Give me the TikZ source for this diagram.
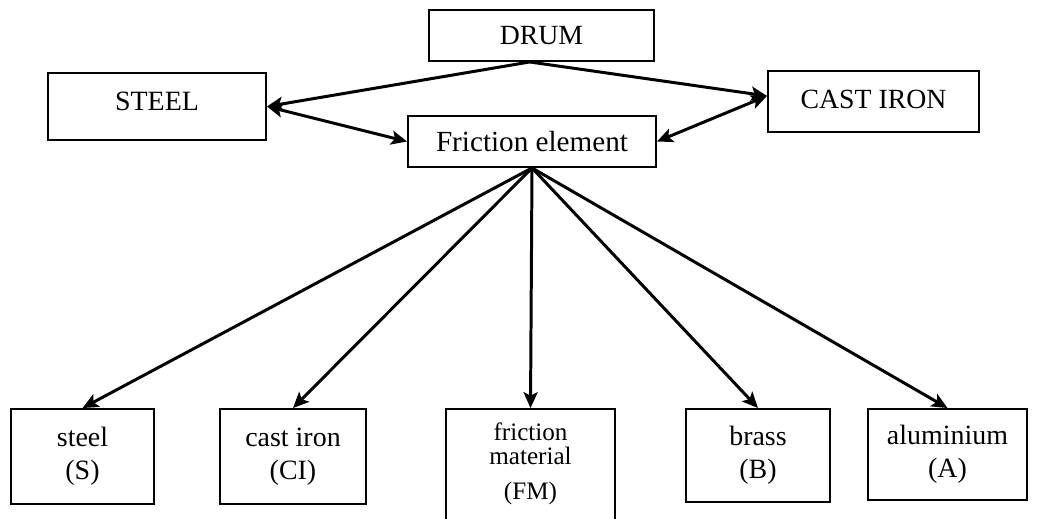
\documentclass[tikz,border=0pt]{standalone}
\usepackage{fontspec}
\setmainfont{Liberation Serif}
\usetikzlibrary{arrows.meta}

\begin{document}
\begin{tikzpicture}[x=0.02cm,y=-0.02cm]
\tikzstyle{block}=[draw,line width=1.1pt,inner sep=0pt,align=center]
\tikzstyle{link}=[line width=1.7pt,-{Stealth[length=9pt,width=8pt,inset=2pt]}]
\tikzstyle{twoway}=[line width=1.7pt,{Stealth[length=9pt,width=8pt,inset=2pt]}-{Stealth[length=9pt,width=8pt,inset=2pt]}]
\useasboundingbox (0,0) rectangle (1057,518);
\foreach \name/\point/\bw/\bh/\fs/\bs/\txt in {
	drum/{541.5,35.5}/225/51/15.8/19/DRUM,
	steel/{157,106.5}/218/67/15.9/19/{\raisebox{5.5pt}{STEEL}},
	castiron/{873.5,101.5}/211/61/15.8/19/{\raisebox{3pt}{CAST IRON}},
	fric/{532,141.5}/248/51/16.6/19/Friction element,
	s/{82.5,456.5}/143/95/15.9/18.5/{steel\\(S)},
	ci/{293,456.5}/146/95/15.9/18.5/{cast iron\\(CI)},
	fm/{530.5,470}/169/122/14.3/13.3/{friction\\material\\[6.5pt](FM)\rule[-10pt]{0pt}{1pt}},
	b/{758,455.5}/144/93/15.9/18.5/{brass\\(B)},
	a/{947.5,454.5}/159/91/15.9/18.5/{aluminium\\(A)}}
	\node[block,minimum width=\bw*0.02cm,minimum height=\bh*0.02cm,
		font=\fontsize{\fs}{\bs}\selectfont] (\name) at (\point) {\txt};
\draw[link] (drum.246) -- (steel.east);
\draw[link] (drum.246) -- (castiron.177);
\draw[twoway] (steel.east) -- (fric.west);
\draw[twoway] (fric.east) -- (castiron.177);
\foreach \to in {s,ci,fm,b,a}
	\draw[link] (fric.south) -- (\to.north);
\end{tikzpicture}
\end{document}
